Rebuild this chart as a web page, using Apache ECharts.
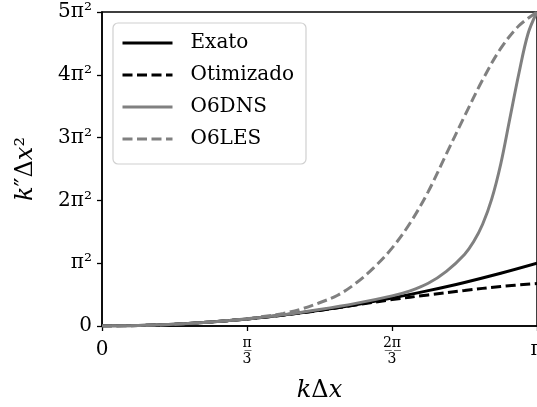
<!DOCTYPE html>
<html><head><meta charset="utf-8">
<script src="https://cdn.jsdelivr.net/npm/echarts@6/dist/echarts.min.js"></script>
<style>html,body{margin:0;padding:0;background:#fff}#c{width:537px;height:407px}</style>
</head><body><div id="c"></div>
<script>
// x values in units of π/3 (0..3 => 0..π), y values in units of π²
const seriesNames = ['Exato', 'Otimizado', 'O6DNS', 'O6LES'];
const xTickLabels = ['0', 'π/3', '2π/3', 'π'];
const yTickLabels = ['0', 'π²', '2π²', '3π²', '4π²', '5π²'];

const exatoX = [0, 0.25, 0.5, 0.75, 1, 1.25, 1.5, 1.75, 2, 2.25, 2.5, 2.75, 3];
const exatoY = [0, 0.007, 0.028, 0.063, 0.111, 0.174, 0.25, 0.34, 0.444, 0.563, 0.694, 0.84, 1.0];

const otimX = [0, 0.25, 0.5, 0.75, 1, 1.25, 1.5, 1.75, 2, 2.25, 2.5, 2.75, 3];
const otimY = [0, 0.007, 0.028, 0.063, 0.111, 0.173, 0.248, 0.335, 0.42, 0.495, 0.565, 0.63, 0.675];

const dnsX = [0, 0.25, 0.5, 0.75, 1, 1.25, 1.5, 1.75, 2, 2.125, 2.25, 2.375, 2.5, 2.5625, 2.625, 2.6875, 2.75, 2.8125, 2.875, 2.9375, 3];
const dnsY = [0, 0.007, 0.028, 0.063, 0.112, 0.178, 0.262, 0.36, 0.48, 0.56, 0.68, 0.87, 1.14, 1.34, 1.62, 2.02, 2.58, 3.3, 4.02, 4.65, 5.0];

const lesX = [0, 0.25, 0.5, 0.75, 1, 1.125, 1.25, 1.375, 1.5, 1.625, 1.75, 1.875, 2, 2.125, 2.25, 2.375, 2.5, 2.625, 2.75, 2.875, 3];
const lesY = [0, 0.007, 0.028, 0.064, 0.117, 0.155, 0.2, 0.27, 0.37, 0.49, 0.68, 0.93, 1.24, 1.64, 2.14, 2.74, 3.34, 3.92, 4.42, 4.78, 5.0];

const zip = (xs, ys) => xs.map((x, i) => [x, ys[i]]);
const FONT = 'DejaVu Serif';
const GRAY = '#808080';
const LW = 3;
const DASH = [10, 4.5];

const chart = echarts.init(document.getElementById('c'), null, {renderer: 'canvas'});

function lineSeries(name, xs, ys, color, dashed) {
  return {
    name, type: 'line', data: zip(xs, ys),
    showSymbol: false, symbol: 'none',
    smooth: 0.35,
    lineStyle: {color, width: LW, type: dashed ? DASH : 'solid', cap: 'butt'},
    itemStyle: {color},
    animation: false
  };
}

// numerator underlined with combining low line (U+0332) to act as the fraction bar
const underline = (s) => Array.from(s).map(ch => ch + '\u0332').join('');

chart.setOption({
  animation: false,
  backgroundColor: '#fff',
  grid: {left: 102, right: 0, top: 12, bottom: 81, containLabel: false, outerBoundsMode: 'none',
         show: true, borderColor: '#000', borderWidth: 1.5, backgroundColor: 'transparent'},
  legend: {
    data: seriesNames,
    orient: 'vertical',
    left: 113, top: 23,
    itemWidth: 50, itemHeight: 14, itemGap: 12,
    padding: [10, 12, 15, 8],
    backgroundColor: 'rgba(255,255,255,0.8)',
    borderColor: '#d0d0d0', borderWidth: 1.2, borderRadius: 5,
    itemStyle: {opacity: 0},
    lineStyle: {width: LW},
    textStyle: {fontFamily: FONT, fontSize: 20, color: '#000', padding: [0, 0, 0, 13]}
  },
  xAxis: {
    type: 'value', min: 0, max: 3, interval: 1,
    name: '{i|k}{r|Δ}{i|x}',
    nameLocation: 'middle', nameGap: 53,
    nameTextStyle: {rich: {
      i: {fontFamily: FONT, fontStyle: 'italic', fontSize: 24, color: '#000'},
      r: {fontFamily: FONT, fontSize: 24, color: '#000'}
    }},
    axisLine: {show: true, lineStyle: {color: '#000', width: 1.5}},
    axisTick: {show: true, length: 5, lineStyle: {color: '#000', width: 1.3}},
    splitLine: {show: false},
    axisLabel: {
      margin: 9,
      alignMinLabel: 'center', alignMaxLabel: 'center',
      formatter: (v) => {
        const idx = Math.round(v);
        const t = xTickLabels[idx];
        if (t.indexOf('/') >= 0) {
          const p = t.split('/');
          return '{num|' + underline(p[0]) + '}\n{den|' + p[1] + '}';
        }
        return '{z|' + t + '}';
      },
      rich: {
        z: {fontFamily: FONT, fontSize: 20, color: '#000', lineHeight: 30},
        num: {fontFamily: FONT, fontSize: 14, color: '#000', lineHeight: 16, align: 'center'},
        den: {fontFamily: FONT, fontSize: 14, color: '#000', lineHeight: 16, align: 'center'}
      }
    }
  },
  yAxis: {
    type: 'value', min: 0, max: 5, interval: 1,
    name: '{i|k}{r|″Δ}{i|x}{r|²}',
    nameLocation: 'middle', nameGap: 64, nameRotate: 90,
    nameTextStyle: {rich: {
      i: {fontFamily: FONT, fontStyle: 'italic', fontSize: 24, color: '#000'},
      r: {fontFamily: FONT, fontSize: 24, color: '#000'}
    }},
    axisLine: {show: true, lineStyle: {color: '#000', width: 1.5}},
    axisTick: {show: true, length: 5, lineStyle: {color: '#000', width: 1.3}},
    splitLine: {show: false},
    axisLabel: {
      margin: 10,
      fontFamily: FONT, fontSize: 20, color: '#000',
      formatter: (v) => yTickLabels[Math.round(v)]
    }
  },
  series: [
    lineSeries(seriesNames[0], exatoX, exatoY, '#000', false),
    lineSeries(seriesNames[1], otimX, otimY, '#000', true),
    lineSeries(seriesNames[2], dnsX, dnsY, GRAY, false),
    lineSeries(seriesNames[3], lesX, lesY, GRAY, true)
  ]
});
</script>
</body></html>
